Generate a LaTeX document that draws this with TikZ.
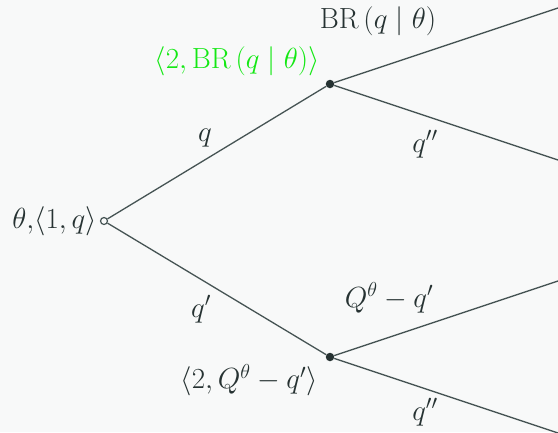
\documentclass[tikz,border=0pt]{standalone}
\usepackage{amsmath}
\definecolor{bg}{RGB}{248,249,249}
\definecolor{txt}{RGB}{38,50,50}
\definecolor{ln}{RGB}{70,84,84}
\definecolor{grn}{RGB}{20,232,20}
\newcommand{\mylbl}[1]{\scalebox{1.17}{$#1$}}
\begin{document}
\begin{tikzpicture}[x=1pt,y=-1pt,
  lbl/.style={font=\fontsize{24}{28}\selectfont, text=txt, inner sep=0pt},
  edge/.style={draw=ln, line width=1.3pt},
  filleddot/.style={circle, fill=txt, inner sep=0pt, minimum size=8.5pt},
  opendot/.style={circle, draw=ln, fill=bg, line width=1.2pt, inner sep=0pt, minimum size=7pt}]
\fill[bg] (0,0) rectangle (558,432);
\useasboundingbox (0,0) rectangle (558,432);
\clip (0,0) rectangle (558,432);
\node[opendot] (r) at (104,221) {};
\node[filleddot] (u) at (330,84) {};
\node[filleddot] (l) at (330,357) {};
\coordinate (uu) at (570,4);
\coordinate (ud) at (570,164);
\coordinate (lu) at (570,277);
\coordinate (ld) at (570,437);
\draw[edge] (r) -- (u);
\draw[edge] (r) -- (l);
\draw[edge] (u) -- (uu);
\draw[edge] (u) -- (ud);
\draw[edge] (l) -- (lu);
\draw[edge] (l) -- (ld);
\node[lbl] (t1) at (378,21) {\mylbl{\mathrm{BR}\,(q\mid\theta)}};
\node[lbl, text=grn] (t2) at (237,61) {\mylbl{\langle 2,\mathrm{BR}\,(q\mid\theta)\rangle}};
\node[lbl] (t3) at (205,138) {\mylbl{q}};
\node[lbl] (t4) at (425,144) {\mylbl{q''}};
\node[lbl, anchor=east] (t5) at ([xshift=-3pt]r.west) {\mylbl{\theta,\!\langle 1,q\rangle}};
\node[lbl] (t6) at (201,309) {\mylbl{q'}};
\node[lbl] (t7) at (389,298) {\mylbl{Q^\theta-q'}};
\node[lbl] (t8) at (249,380) {\mylbl{\langle 2,Q^\theta-q'\rangle}};
\node[lbl] (t9) at (425,412) {\mylbl{q''}};
\end{tikzpicture}
\end{document}
